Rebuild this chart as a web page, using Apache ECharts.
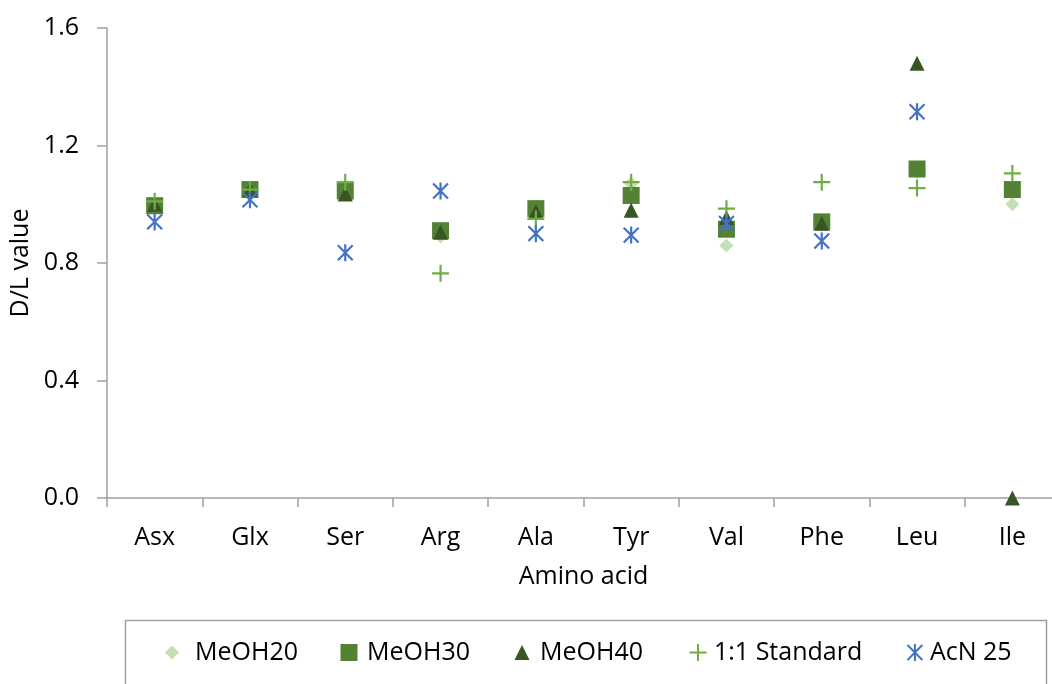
<!DOCTYPE html>
<html>
<head>
<meta charset="utf-8">
<title>D/L value by amino acid</title>
<script src="https://cdn.jsdelivr.net/npm/echarts@6/dist/echarts.min.js"></script>
<style>
  html, body { margin: 0; padding: 0; background: #ffffff; }
  #chart { width: 1052px; height: 684px; }
</style>
</head>
<body>
<div id="chart"></div>
<script>
// Amino acids on the category axis
const aminoAcids = ['Asx', 'Glx', 'Ser', 'Arg', 'Ala', 'Tyr', 'Val', 'Phe', 'Leu', 'Ile'];

// D/L values per solvent condition
const meoh20   = [0.99, 1.05, 1.04, 0.89, 0.98, 1.07, 0.86, 0.93, 1.11, 1.00];
const meoh30   = [0.995, 1.05, 1.045, 0.91, 0.985, 1.03, 0.915, 0.94, 1.12, 1.05];
const meoh40   = [1.00, 1.05, 1.035, 0.905, 0.975, 0.98, 0.955, 0.935, 1.48, 0.00];
const standard = [1.01, 1.05, 1.075, 0.765, 0.95, 1.075, 0.985, 1.075, 1.055, 1.105];
const acn25    = [0.94, 1.015, 0.835, 1.045, 0.90, 0.895, 0.935, 0.875, 1.315, null];

// Value axis ticks
const yTicks = { min: 0, max: 1.6, step: 0.4 };

const FONT = '"Open Sans", Lato, sans-serif';
const FONT_SIZE = 25;
const TEXT = '#000000';
const AXIS = '#a0a0a0';

const plusPath = 'path://M0,8L16,8M8,0L8,16';
const starPath = 'path://M1,1L15,15M15,1L1,15M8,0L8,16';

const seriesDefs = [
  { name: 'MeOH20', data: meoh20, symbol: 'diamond', size: 14,
    itemStyle: { color: '#c5e0b4' } },
  { name: 'MeOH30', data: meoh30, symbol: 'rect', size: 17,
    itemStyle: { color: '#548235' } },
  { name: 'MeOH40', data: meoh40, symbol: 'triangle', size: 15,
    itemStyle: { color: '#375623' } },
  { name: '1:1 Standard', data: standard, symbol: plusPath, size: 17,
    itemStyle: { color: 'rgba(0,0,0,0)', borderColor: '#70ad47', borderWidth: 2.2 } },
  { name: 'AcN 25', data: acn25, symbol: starPath, size: 17,
    itemStyle: { color: 'rgba(0,0,0,0)', borderColor: '#4472c4', borderWidth: 2.2 } }
];

// Legend entries are placed one by one along the bottom box
const legendLeft = [165, 340.5, 514.5, 688.5, 906.5];
const legendTextGap = [11, 4.5, 5.5, 2.5, 1.5];

const chart = echarts.init(document.getElementById('chart'), null, { renderer: 'canvas' });

chart.setOption({
  animation: false,
  backgroundColor: '#ffffff',
  grid: {
    left: 107, top: 28, width: 953, height: 470,
    containLabel: false, outerBoundsMode: 'none'
  },
  xAxis: {
    type: 'category',
    data: aminoAcids,
    boundaryGap: true,
    name: 'Amino acid',
    nameLocation: 'middle',
    nameGap: 66,
    nameTextStyle: { color: TEXT, fontFamily: FONT, fontSize: FONT_SIZE },
    axisLine: { show: true, lineStyle: { color: AXIS, width: 1.5 } },
    axisTick: { show: true, inside: false, length: 9, lineStyle: { color: AXIS, width: 1.5 } },
    axisLabel: { color: TEXT, fontFamily: FONT, fontSize: FONT_SIZE, margin: 27 },
    splitLine: { show: false }
  },
  yAxis: {
    type: 'value',
    min: yTicks.min,
    max: yTicks.max,
    interval: yTicks.step,
    name: 'D/L value',
    nameLocation: 'middle',
    nameRotate: 90,
    nameGap: 67,
    nameTextStyle: { color: TEXT, fontFamily: FONT, fontSize: FONT_SIZE },
    axisLine: { show: true, lineStyle: { color: AXIS, width: 1.5 } },
    axisTick: { show: true, inside: false, length: 10, lineStyle: { color: AXIS, width: 1.5 } },
    axisLabel: {
      color: TEXT, fontFamily: FONT, fontSize: FONT_SIZE, margin: 28,
      formatter: v => v.toFixed(1)
    },
    splitLine: { show: false }
  },
  legend: seriesDefs.map((s, i) => ({
    data: [s.name],
    left: legendLeft[i],
    top: 640,
    padding: 0,
    itemWidth: s.size,
    itemHeight: s.size,
    itemGap: 0,
    textStyle: { color: TEXT, fontFamily: FONT, fontSize: FONT_SIZE, padding: [0, 0, 0, legendTextGap[i]] }
  })),
  graphic: [{
    type: 'rect',
    shape: { x: 125.5, y: 620.5, width: 921, height: 80 },
    style: { fill: 'none', stroke: '#a0a0a0', lineWidth: 1.5 },
    silent: true
  }],
  series: seriesDefs.map(s => ({
    type: 'scatter',
    name: s.name,
    data: s.data,
    symbol: s.symbol,
    symbolSize: s.size,
    symbolKeepAspect: true,
    itemStyle: Object.assign({ opacity: 1 }, s.itemStyle),
    emphasis: { disabled: true }
  }))
});
</script>
</body>
</html>
